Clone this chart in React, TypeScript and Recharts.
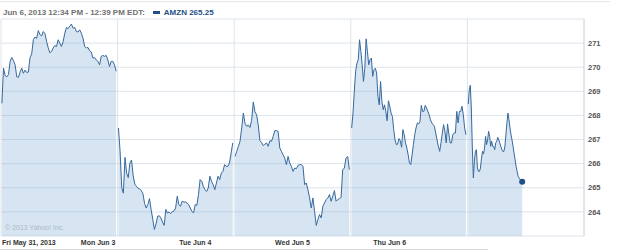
import { AreaChart, Area, XAxis, YAxis, CartesianGrid } from 'recharts';

// AMZN 5-day intraday
const dayLabels = ['Fri May 31, 2013', 'Mon Jun 3', 'Tue Jun 4', 'Wed Jun 5', 'Thu Jun 6'];
const sessionMinutes = [390, 390, 390, 390, 184];
const priceTicks = [263, 264, 265, 266, 267, 268, 269, 270, 271, 272];

const friVals = [
  268.5, 269.96, 269.65, 269.6, 269.7, 270.25, 270.4, 270.27, 270.1, 269.6, 269.58, 269.8, 269.96, 269.75,
  269.88, 269.78, 269.8, 270.4, 270.55, 271.14, 271.25, 271.2, 271.52, 271.35, 271.3, 271.48, 271.4, 271.07,
  270.8, 270.6, 270.65, 270.8, 270.9, 270.86, 271.14, 271.0, 270.86, 271.07, 271.41, 271.65, 271.6, 271.7,
  271.79, 271.62, 271.65, 271.48, 271.46, 271.55, 271.41, 271.2, 270.86, 270.8, 270.82, 270.68,
  270.63, 270.38, 270.4, 270.3, 270.24, 270.1, 270.45, 270.49, 270.45, 270.49, 270.3, 270.03, 270.24, 270.24,
  270.1, 269.83,
];
const monVals = [
  267.48, 266.5, 265.0, 264.78, 266.26, 265.6, 265.42, 266.03, 266.15, 265.5, 265.15, 265.06, 264.98, 264.95,
  264.88, 264.75, 264.35, 264.16, 264.3, 264.55, 264.1, 263.7, 263.27, 263.5, 263.82, 263.84, 263.75, 263.58,
  263.44, 264.1, 263.95, 264.0, 263.93, 264.01, 264.04, 264.16, 264.65,
  264.3, 264.23, 264.44, 264.41, 264.41, 264.37, 264.3, 264.16, 264.02, 263.96, 264.3, 264.27, 264.72, 265.34,
  265.27, 265.06, 264.92, 264.85, 264.99, 265.48, 265.27, 265.13, 264.92, 265.2, 265.48, 265.34, 265.61, 265.68,
  265.96, 265.89, 265.89, 266.03, 266.44, 266.86,
];
const tueVals = [
  266.3, 266.51, 266.72, 266.93, 267.48, 268.1, 267.67, 267.55, 267.6, 267.5, 267.8, 268.56, 268.15, 268.03,
  267.6, 266.95, 266.88, 266.75, 266.81,
  266.86, 266.72, 266.95, 266.93, 267.13, 267.37, 267.37, 267.34, 266.65, 266.51, 266.37, 266.23, 265.96, 266.3,
  266.03, 265.89, 265.68, 265.82, 265.79, 265.93, 265.96, 265.96, 265.89, 265.13, 265.2, 264.92, 264.58, 264.16,
  264.58, 264.02, 263.44, 263.68, 263.89, 263.75, 264.23, 264.37, 264.51, 264.58, 264.72, 264.44, 264.65, 264.88,
  264.44, 264.51, 264.55, 264.6, 265.75, 265.82, 266.23, 266.3, 265.75,
];
const wedVals = [
  267.48, 268.1, 269.0, 269.83, 270.17, 270.31, 271.14, 270.65, 270.1, 269.41, 269.96, 271.18, 270.65, 270.1,
  270.31, 270.38, 269.62, 269.9, 269.96, 269.76, 268.79, 268.44, 269.41, 268.58, 268.24, 268.44, 268.17, 267.78,
  268.61, 268.38, 268.1, 267.96, 267.41, 266.99, 266.79, 266.81, 267.04, 266.95, 266.68, 267.41, 267.2, 266.86,
  266.65, 266.37, 266.03, 265.96, 266.37, 266.79, 267.2, 267.48, 267.69, 267.65, 267.75, 268.42, 268.17, 268.17,
  268.42, 268.31, 268.17, 268.03, 267.82, 267.69, 267.62, 267.55, 267.27, 266.99, 266.72, 266.51,
  266.86, 267.27, 267.62, 267.34, 266.86, 267.65, 267.23, 266.86, 266.86, 267.2, 267.27, 267.27, 268.17, 267.69,
  268.17, 268.17, 268.38, 268.03, 267.48, 267.2,
];
const thuVals = [
  268.47, 269.07, 269.25, 268.31, 266.65, 265.41, 266.1, 266.51, 266.58, 265.82, 265.68, 265.68, 265.82, 266.23,
  266.51, 266.4, 266.65, 267.13, 266.79, 266.99, 267.34, 267.13, 266.72, 266.93, 266.72, 266.72, 266.58, 266.86,
  266.93, 267.09, 266.99, 266.86, 266.72, 266.58, 266.51, 266.51, 266.72, 267.2, 267.69, 268.1, 267.82, 267.48,
  267.2, 266.99, 266.72, 266.44, 266.17, 265.89, 265.68, 265.48, 265.4, 265.35, 265.3, 265.25,
];

const days = [friVals, monVals, tueVals, wedVals, thuVals];

// each session gets 400 axis units: 392 for trading, the rest is the overnight gap
const DAY = 400;
const rows: { t: number; price: number | null }[] = [];
days.forEach((vals, d) => {
  if (d > 0) rows.push({ t: d * DAY, price: null });
  const span = (sessionMinutes[d] / 390) * 392;
  vals.forEach((v, i) => rows.push({ t: d * DAY + 3 + (i / (vals.length - 1)) * span, price: v }));
});
const lastIdx = rows.length - 1;
const lastPrice = thuVals[thuVals.length - 1];
const PLOT_LEFT = 1;

// yahoo spaces the day labels on a 6-slot grid, not on the session lines
const DayTick = (props: any) => {
  const { x, y, index } = props;
  if (index >= dayLabels.length) return <g />;
  const lx = PLOT_LEFT + ((x - PLOT_LEFT) * 5) / 6;
  return (
    <text
      x={index === 0 ? lx + 1 : lx}
      y={y}
      dy={9}
      textAnchor={index === 0 ? 'start' : 'middle'}
      fontSize={7}
      fontWeight="bold"
      fill="#333"
    >
      {dayLabels[index]}
    </text>
  );
};

const EndDot = (props: any) =>
  props.index === lastIdx ? (
    <circle key="end" cx={props.cx} cy={props.cy} r={3} fill="#1f4f86" />
  ) : (
    <g key={props.index} />
  );

export default function App() {
  return (
    <div
      style={{
        position: 'absolute',
        left: 0,
        top: 0,
        width: 625,
        height: 252,
        background: '#fff',
        fontFamily: '"Liberation Sans", Arial, sans-serif',
      }}
    >
      <div style={{ position: 'absolute', left: 0, top: 1, width: 610, height: 1, background: '#e6e6e6' }} />
      <div
        style={{
          position: 'absolute',
          left: 3,
          top: 8,
          fontSize: 8,
          lineHeight: '10px',
          fontWeight: 'bold',
          color: '#707070',
          whiteSpace: 'nowrap',
        }}
      >
        Jun 6, 2013 12:34 PM - 12:39 PM EDT:
        <span
          style={{
            display: 'inline-block',
            width: 7,
            height: 3,
            background: '#1f4f86',
            marginLeft: 8,
            marginRight: 4,
            verticalAlign: 'middle',
          }}
        />
        <span style={{ color: '#1f4f86' }}>AMZN {lastPrice.toFixed(2)}</span>
      </div>

      <AreaChart width={625} height={252} data={rows} margin={{ top: 19, right: 0, left: PLOT_LEFT, bottom: 0 }}>
        <CartesianGrid stroke="#dde4eb" />
        <XAxis
          dataKey="t"
          type="number"
          domain={[0, 2000]}
          ticks={[0, 400, 800, 1200, 1600, 2000]}
          interval={0}
          height={16}
          axisLine={false}
          tickLine={false}
          tickSize={0}
          tickMargin={0}
          tick={DayTick}
        />
        <YAxis
          orientation="right"
          type="number"
          domain={[263, 272]}
          ticks={priceTicks}
          allowDataOverflow
          width={41}
          tickSize={4}
          tickMargin={0}
          tickLine={false}
          axisLine={{ stroke: '#d3dce5' }}
          tickFormatter={(v: number) => (v === 263 || v === 272 ? '' : String(v))}
          tick={{ fontSize: 7.5, fontWeight: 'bold', fill: '#555' }}
        />
        <Area
          dataKey="price"
          type="linear"
          stroke="#36689c"
          strokeWidth={1}
          fill="#6fa3cf"
          fillOpacity={0.28}
          connectNulls={false}
          dot={EndDot}
          activeDot={false}
          isAnimationActive={false}
        />
      </AreaChart>

      <div style={{ position: 'absolute', left: 5, top: 224, fontSize: 7, color: '#aab8c6', whiteSpace: 'nowrap' }}>
        © 2013 Yahoo! Inc.
      </div>
      <div style={{ position: 'absolute', left: 0, top: 249, width: 488, height: 1, background: '#d9d9d9' }} />
    </div>
  );
}
